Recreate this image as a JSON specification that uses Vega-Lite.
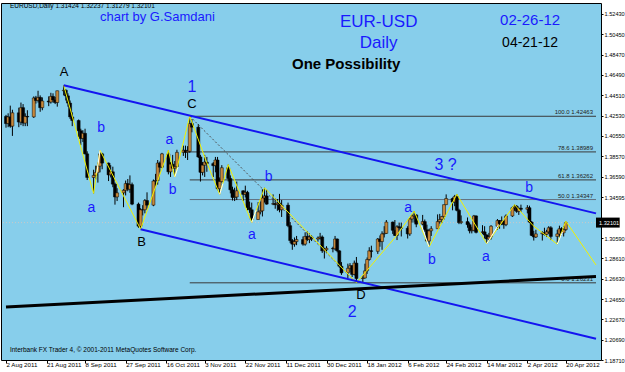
{
  "$schema": "https://vega.github.io/schema/vega-lite/v6.json",
  "width": 600,
  "height": 357,
  "autosize": "none",
  "padding": {"left": 1, "top": 3, "right": 24, "bottom": 12},
  "background": "#ffffff",
  "config": {
    "view": {"fill": "#87CEEB", "stroke": "#000000", "strokeWidth": 1},
    "axisX": {"labelFont": "Liberation Sans", "labelFontSize": 6.2, "labelColor": "#000000", "tickColor": "#000000", "tickSize": 3, "labelPadding": -2, "domain": false, "grid": false, "labelAlign": "left", "labelBaseline": "top", "labelOverlap": false, "labelFlush": false, "labelBound": false},
    "axisY": {"labelFont": "Liberation Sans", "labelFontSize": 5.6, "labelColor": "#000000", "tickColor": "#000000", "tickSize": 2, "labelPadding": 1, "domain": false, "grid": false, "labelAlign": "left", "labelBaseline": "middle", "labelOverlap": false, "labelFlush": false, "labelBound": false}
  },
  "datasets": {
    "candles": [
      {"d":"2011-08-02","o":1.4245,"h":1.4260,"l":1.4135,"c":1.4175},
      {"d":"2011-08-03","o":1.4175,"h":1.4275,"l":1.4140,"c":1.4240},
      {"d":"2011-08-04","o":1.4240,"h":1.4350,"l":1.4135,"c":1.4150},
      {"d":"2011-08-05","o":1.4150,"h":1.4310,"l":1.4055,"c":1.4280},
      {"d":"2011-08-08","o":1.4280,"h":1.4330,"l":1.4140,"c":1.4190},
      {"d":"2011-08-09","o":1.4190,"h":1.4380,"l":1.4160,"c":1.4330},
      {"d":"2011-08-10","o":1.4330,"h":1.4365,"l":1.4150,"c":1.4180},
      {"d":"2011-08-11","o":1.4180,"h":1.4275,"l":1.4150,"c":1.4245},
      {"d":"2011-08-12","o":1.4245,"h":1.4305,"l":1.4150,"c":1.4240},
      {"d":"2011-08-15","o":1.4240,"h":1.4440,"l":1.4230,"c":1.4425},
      {"d":"2011-08-16","o":1.4425,"h":1.4445,"l":1.4370,"c":1.4400},
      {"d":"2011-08-17","o":1.4400,"h":1.4495,"l":1.4380,"c":1.4430},
      {"d":"2011-08-18","o":1.4430,"h":1.4450,"l":1.4290,"c":1.4330},
      {"d":"2011-08-19","o":1.4330,"h":1.4430,"l":1.4305,"c":1.4395},
      {"d":"2011-08-22","o":1.4395,"h":1.4440,"l":1.4345,"c":1.4385},
      {"d":"2011-08-23","o":1.4385,"h":1.4475,"l":1.4370,"c":1.4440},
      {"d":"2011-08-24","o":1.4440,"h":1.4470,"l":1.4380,"c":1.4405},
      {"d":"2011-08-25","o":1.4405,"h":1.4435,"l":1.4365,"c":1.4380},
      {"d":"2011-08-26","o":1.4380,"h":1.4495,"l":1.4340,"c":1.4495},
      {"d":"2011-08-29","o":1.4495,"h":1.4548,"l":1.4450,"c":1.4500},
      {"d":"2011-08-30","o":1.4500,"h":1.4510,"l":1.4400,"c":1.4445},
      {"d":"2011-08-31","o":1.4445,"h":1.4470,"l":1.4340,"c":1.4375},
      {"d":"2011-09-01","o":1.4375,"h":1.4400,"l":1.4220,"c":1.4240},
      {"d":"2011-09-02","o":1.4240,"h":1.4285,"l":1.4150,"c":1.4205},
      {"d":"2011-09-05","o":1.4205,"h":1.4215,"l":1.4045,"c":1.4105},
      {"d":"2011-09-06","o":1.4105,"h":1.4125,"l":1.3965,"c":1.4030},
      {"d":"2011-09-07","o":1.4030,"h":1.4110,"l":1.3995,"c":1.4080},
      {"d":"2011-09-08","o":1.4080,"h":1.4125,"l":1.3875,"c":1.3880},
      {"d":"2011-09-09","o":1.3880,"h":1.3905,"l":1.3625,"c":1.3650},
      {"d":"2011-09-12","o":1.3650,"h":1.3725,"l":1.3495,"c":1.3670},
      {"d":"2011-09-13","o":1.3670,"h":1.3765,"l":1.3630,"c":1.3700},
      {"d":"2011-09-14","o":1.3700,"h":1.3795,"l":1.3600,"c":1.3760},
      {"d":"2011-09-15","o":1.3760,"h":1.3915,"l":1.3700,"c":1.3880},
      {"d":"2011-09-16","o":1.3880,"h":1.3890,"l":1.3730,"c":1.3790},
      {"d":"2011-09-19","o":1.3790,"h":1.3795,"l":1.3615,"c":1.3675},
      {"d":"2011-09-20","o":1.3675,"h":1.3770,"l":1.3650,"c":1.3705},
      {"d":"2011-09-21","o":1.3705,"h":1.3755,"l":1.3555,"c":1.3585},
      {"d":"2011-09-22","o":1.3585,"h":1.3600,"l":1.3385,"c":1.3460},
      {"d":"2011-09-23","o":1.3460,"h":1.3545,"l":1.3420,"c":1.3500},
      {"d":"2011-09-26","o":1.3500,"h":1.3535,"l":1.3360,"c":1.3525},
      {"d":"2011-09-27","o":1.3525,"h":1.3620,"l":1.3475,"c":1.3590},
      {"d":"2011-09-28","o":1.3590,"h":1.3635,"l":1.3515,"c":1.3535},
      {"d":"2011-09-29","o":1.3535,"h":1.3670,"l":1.3500,"c":1.3580},
      {"d":"2011-09-30","o":1.3580,"h":1.3600,"l":1.3380,"c":1.3390},
      {"d":"2011-10-03","o":1.3390,"h":1.3405,"l":1.3160,"c":1.3175},
      {"d":"2011-10-04","o":1.3175,"h":1.3350,"l":1.3146,"c":1.3335},
      {"d":"2011-10-05","o":1.3335,"h":1.3380,"l":1.3280,"c":1.3335},
      {"d":"2011-10-06","o":1.3335,"h":1.3440,"l":1.3300,"c":1.3425},
      {"d":"2011-10-07","o":1.3425,"h":1.3505,"l":1.3345,"c":1.3380},
      {"d":"2011-10-10","o":1.3380,"h":1.3630,"l":1.3370,"c":1.3615},
      {"d":"2011-10-11","o":1.3615,"h":1.3685,"l":1.3560,"c":1.3620},
      {"d":"2011-10-12","o":1.3620,"h":1.3820,"l":1.3580,"c":1.3790},
      {"d":"2011-10-13","o":1.3790,"h":1.3805,"l":1.3700,"c":1.3750},
      {"d":"2011-10-14","o":1.3750,"h":1.3890,"l":1.3740,"c":1.3880},
      {"d":"2011-10-17","o":1.3880,"h":1.3915,"l":1.3680,"c":1.3705},
      {"d":"2011-10-18","o":1.3705,"h":1.3800,"l":1.3655,"c":1.3780},
      {"d":"2011-10-19","o":1.3780,"h":1.3870,"l":1.3735,"c":1.3740},
      {"d":"2011-10-20","o":1.3740,"h":1.3810,"l":1.3655,"c":1.3755},
      {"d":"2011-10-21","o":1.3755,"h":1.3920,"l":1.3725,"c":1.3895},
      {"d":"2011-10-24","o":1.3895,"h":1.3960,"l":1.3860,"c":1.3915},
      {"d":"2011-10-25","o":1.3915,"h":1.3960,"l":1.3840,"c":1.3895},
      {"d":"2011-10-26","o":1.3895,"h":1.3955,"l":1.3820,"c":1.3905},
      {"d":"2011-10-27","o":1.3905,"h":1.4247,"l":1.3890,"c":1.4175},
      {"d":"2011-10-28","o":1.4175,"h":1.4220,"l":1.4090,"c":1.4140},
      {"d":"2011-10-31","o":1.4140,"h":1.4170,"l":1.3840,"c":1.3850},
      {"d":"2011-11-01","o":1.3850,"h":1.3870,"l":1.3610,"c":1.3700},
      {"d":"2011-11-02","o":1.3700,"h":1.3800,"l":1.3670,"c":1.3770},
      {"d":"2011-11-03","o":1.3770,"h":1.3870,"l":1.3655,"c":1.3800},
      {"d":"2011-11-04","o":1.3800,"h":1.3850,"l":1.3705,"c":1.3785},
      {"d":"2011-11-07","o":1.3785,"h":1.3800,"l":1.3655,"c":1.3765},
      {"d":"2011-11-08","o":1.3765,"h":1.3850,"l":1.3700,"c":1.3820},
      {"d":"2011-11-09","o":1.3820,"h":1.3850,"l":1.3525,"c":1.3540},
      {"d":"2011-11-10","o":1.3540,"h":1.3650,"l":1.3485,"c":1.3610},
      {"d":"2011-11-11","o":1.3610,"h":1.3770,"l":1.3600,"c":1.3745},
      {"d":"2011-11-14","o":1.3745,"h":1.3775,"l":1.3610,"c":1.3640},
      {"d":"2011-11-15","o":1.3640,"h":1.3670,"l":1.3495,"c":1.3530},
      {"d":"2011-11-16","o":1.3530,"h":1.3560,"l":1.3425,"c":1.3455},
      {"d":"2011-11-17","o":1.3455,"h":1.3550,"l":1.3420,"c":1.3460},
      {"d":"2011-11-18","o":1.3460,"h":1.3610,"l":1.3430,"c":1.3520},
      {"d":"2011-11-21","o":1.3520,"h":1.3525,"l":1.3420,"c":1.3485},
      {"d":"2011-11-22","o":1.3485,"h":1.3570,"l":1.3455,"c":1.3505},
      {"d":"2011-11-23","o":1.3505,"h":1.3520,"l":1.3330,"c":1.3355},
      {"d":"2011-11-24","o":1.3355,"h":1.3415,"l":1.3305,"c":1.3335},
      {"d":"2011-11-25","o":1.3335,"h":1.3405,"l":1.3212,"c":1.3240},
      {"d":"2011-11-28","o":1.3240,"h":1.3410,"l":1.3240,"c":1.3315},
      {"d":"2011-11-29","o":1.3315,"h":1.3415,"l":1.3290,"c":1.3325},
      {"d":"2011-11-30","o":1.3325,"h":1.3535,"l":1.3270,"c":1.3450},
      {"d":"2011-12-01","o":1.3450,"h":1.3549,"l":1.3405,"c":1.3470},
      {"d":"2011-12-02","o":1.3470,"h":1.3530,"l":1.3385,"c":1.3390},
      {"d":"2011-12-05","o":1.3390,"h":1.3485,"l":1.3380,"c":1.3395},
      {"d":"2011-12-06","o":1.3395,"h":1.3445,"l":1.3345,"c":1.3385},
      {"d":"2011-12-07","o":1.3385,"h":1.3440,"l":1.3325,"c":1.3400},
      {"d":"2011-12-08","o":1.3400,"h":1.3490,"l":1.3310,"c":1.3335},
      {"d":"2011-12-09","o":1.3335,"h":1.3430,"l":1.3265,"c":1.3380},
      {"d":"2011-12-12","o":1.3380,"h":1.3405,"l":1.3165,"c":1.3180},
      {"d":"2011-12-13","o":1.3180,"h":1.3215,"l":1.3010,"c":1.3035},
      {"d":"2011-12-14","o":1.3035,"h":1.3050,"l":1.2945,"c":1.3000},
      {"d":"2011-12-15","o":1.3000,"h":1.3065,"l":1.2975,"c":1.3025},
      {"d":"2011-12-16","o":1.3025,"h":1.3080,"l":1.2990,"c":1.3045},
      {"d":"2011-12-19","o":1.3045,"h":1.3075,"l":1.2985,"c":1.3000},
      {"d":"2011-12-20","o":1.3000,"h":1.3115,"l":1.2985,"c":1.3075},
      {"d":"2011-12-21","o":1.3075,"h":1.3125,"l":1.3030,"c":1.3045},
      {"d":"2011-12-22","o":1.3045,"h":1.3105,"l":1.3010,"c":1.3070},
      {"d":"2011-12-23","o":1.3070,"h":1.3085,"l":1.3030,"c":1.3050},
      {"d":"2011-12-26","o":1.3050,"h":1.3075,"l":1.3025,"c":1.3060},
      {"d":"2011-12-27","o":1.3060,"h":1.3110,"l":1.3045,"c":1.3070},
      {"d":"2011-12-28","o":1.3070,"h":1.3085,"l":1.2915,"c":1.2935},
      {"d":"2011-12-29","o":1.2935,"h":1.2965,"l":1.2860,"c":1.2945},
      {"d":"2011-12-30","o":1.2945,"h":1.2980,"l":1.2915,"c":1.2960},
      {"d":"2012-01-02","o":1.2960,"h":1.2975,"l":1.2920,"c":1.2955},
      {"d":"2012-01-03","o":1.2955,"h":1.3080,"l":1.2940,"c":1.3050},
      {"d":"2012-01-04","o":1.3050,"h":1.3055,"l":1.2920,"c":1.2935},
      {"d":"2012-01-05","o":1.2935,"h":1.2940,"l":1.2770,"c":1.2785},
      {"d":"2012-01-06","o":1.2785,"h":1.2825,"l":1.2700,"c":1.2720},
      {"d":"2012-01-09","o":1.2720,"h":1.2810,"l":1.2665,"c":1.2765},
      {"d":"2012-01-10","o":1.2765,"h":1.2815,"l":1.2725,"c":1.2790},
      {"d":"2012-01-11","o":1.2790,"h":1.2795,"l":1.2680,"c":1.2705},
      {"d":"2012-01-12","o":1.2705,"h":1.2840,"l":1.2695,"c":1.2815},
      {"d":"2012-01-13","o":1.2815,"h":1.2875,"l":1.2624,"c":1.2665},
      {"d":"2012-01-16","o":1.2665,"h":1.2700,"l":1.2625,"c":1.2670},
      {"d":"2012-01-17","o":1.2670,"h":1.2810,"l":1.2665,"c":1.2740},
      {"d":"2012-01-18","o":1.2740,"h":1.2870,"l":1.2710,"c":1.2850},
      {"d":"2012-01-19","o":1.2850,"h":1.2970,"l":1.2840,"c":1.2935},
      {"d":"2012-01-20","o":1.2935,"h":1.2985,"l":1.2870,"c":1.2930},
      {"d":"2012-01-23","o":1.2930,"h":1.3060,"l":1.2905,"c":1.3050},
      {"d":"2012-01-24","o":1.3050,"h":1.3085,"l":1.2975,"c":1.3025},
      {"d":"2012-01-25","o":1.3025,"h":1.3125,"l":1.2945,"c":1.3100},
      {"d":"2012-01-26","o":1.3100,"h":1.3175,"l":1.3065,"c":1.3105},
      {"d":"2012-01-27","o":1.3105,"h":1.3235,"l":1.3100,"c":1.3215},
      {"d":"2012-01-30","o":1.3215,"h":1.3220,"l":1.3100,"c":1.3135},
      {"d":"2012-01-31","o":1.3135,"h":1.3235,"l":1.3080,"c":1.3085},
      {"d":"2012-02-01","o":1.3085,"h":1.3185,"l":1.3040,"c":1.3170},
      {"d":"2012-02-02","o":1.3170,"h":1.3210,"l":1.3130,"c":1.3160},
      {"d":"2012-02-03","o":1.3160,"h":1.3210,"l":1.3075,"c":1.3155},
      {"d":"2012-02-06","o":1.3155,"h":1.3175,"l":1.3055,"c":1.3100},
      {"d":"2012-02-07","o":1.3100,"h":1.3255,"l":1.3080,"c":1.3245},
      {"d":"2012-02-08","o":1.3245,"h":1.3290,"l":1.3210,"c":1.3275},
      {"d":"2012-02-09","o":1.3275,"h":1.3322,"l":1.3210,"c":1.3285},
      {"d":"2012-02-10","o":1.3285,"h":1.3290,"l":1.3165,"c":1.3195},
      {"d":"2012-02-13","o":1.3195,"h":1.3285,"l":1.3185,"c":1.3220},
      {"d":"2012-02-14","o":1.3220,"h":1.3240,"l":1.3120,"c":1.3140},
      {"d":"2012-02-15","o":1.3140,"h":1.3190,"l":1.3020,"c":1.3030},
      {"d":"2012-02-16","o":1.3030,"h":1.3150,"l":1.2973,"c":1.3130},
      {"d":"2012-02-17","o":1.3130,"h":1.3175,"l":1.3080,"c":1.3150},
      {"d":"2012-02-20","o":1.3150,"h":1.3290,"l":1.3150,"c":1.3220},
      {"d":"2012-02-21","o":1.3220,"h":1.3295,"l":1.3200,"c":1.3240},
      {"d":"2012-02-22","o":1.3240,"h":1.3275,"l":1.3205,"c":1.3270},
      {"d":"2012-02-23","o":1.3270,"h":1.3385,"l":1.3240,"c":1.3385},
      {"d":"2012-02-24","o":1.3385,"h":1.3485,"l":1.3385,"c":1.3445},
      {"d":"2012-02-27","o":1.3445,"h":1.3455,"l":1.3330,"c":1.3410},
      {"d":"2012-02-28","o":1.3410,"h":1.3480,"l":1.3370,"c":1.3465},
      {"d":"2012-02-29","o":1.3465,"h":1.3486,"l":1.3320,"c":1.3330},
      {"d":"2012-03-01","o":1.3330,"h":1.3345,"l":1.3195,"c":1.3210},
      {"d":"2012-03-02","o":1.3210,"h":1.3280,"l":1.3195,"c":1.3220},
      {"d":"2012-03-05","o":1.3220,"h":1.3260,"l":1.3160,"c":1.3190},
      {"d":"2012-03-06","o":1.3190,"h":1.3210,"l":1.3105,"c":1.3130},
      {"d":"2012-03-07","o":1.3130,"h":1.3170,"l":1.3105,"c":1.3135},
      {"d":"2012-03-08","o":1.3135,"h":1.3285,"l":1.3125,"c":1.3275},
      {"d":"2012-03-09","o":1.3275,"h":1.3280,"l":1.3105,"c":1.3115},
      {"d":"2012-03-12","o":1.3115,"h":1.3185,"l":1.3100,"c":1.3120},
      {"d":"2012-03-13","o":1.3120,"h":1.3175,"l":1.3055,"c":1.3090},
      {"d":"2012-03-14","o":1.3090,"h":1.3095,"l":1.3004,"c":1.3050},
      {"d":"2012-03-15","o":1.3050,"h":1.3110,"l":1.3030,"c":1.3070},
      {"d":"2012-03-16","o":1.3070,"h":1.3185,"l":1.3045,"c":1.3175},
      {"d":"2012-03-19","o":1.3175,"h":1.3245,"l":1.3140,"c":1.3230},
      {"d":"2012-03-20","o":1.3230,"h":1.3235,"l":1.3150,"c":1.3200},
      {"d":"2012-03-21","o":1.3200,"h":1.3270,"l":1.3185,"c":1.3225},
      {"d":"2012-03-22","o":1.3225,"h":1.3235,"l":1.3150,"c":1.3190},
      {"d":"2012-03-23","o":1.3190,"h":1.3290,"l":1.3175,"c":1.3275},
      {"d":"2012-03-26","o":1.3275,"h":1.3365,"l":1.3265,"c":1.3355},
      {"d":"2012-03-27","o":1.3355,"h":1.3385,"l":1.3325,"c":1.3370},
      {"d":"2012-03-28","o":1.3370,"h":1.3380,"l":1.3305,"c":1.3320},
      {"d":"2012-03-29","o":1.3320,"h":1.3355,"l":1.3285,"c":1.3350},
      {"d":"2012-03-30","o":1.3350,"h":1.3385,"l":1.3315,"c":1.3340},
      {"d":"2012-04-02","o":1.3340,"h":1.3380,"l":1.3300,"c":1.3355},
      {"d":"2012-04-03","o":1.3355,"h":1.3375,"l":1.3205,"c":1.3215},
      {"d":"2012-04-04","o":1.3215,"h":1.3225,"l":1.3080,"c":1.3085},
      {"d":"2012-04-05","o":1.3085,"h":1.3130,"l":1.3035,"c":1.3070},
      {"d":"2012-04-06","o":1.3070,"h":1.3140,"l":1.3060,"c":1.3100},
      {"d":"2012-04-09","o":1.3100,"h":1.3125,"l":1.3035,"c":1.3110},
      {"d":"2012-04-10","o":1.3110,"h":1.3160,"l":1.3085,"c":1.3095},
      {"d":"2012-04-11","o":1.3095,"h":1.3140,"l":1.3070,"c":1.3120},
      {"d":"2012-04-12","o":1.3120,"h":1.3175,"l":1.3100,"c":1.3160},
      {"d":"2012-04-13","o":1.3160,"h":1.3175,"l":1.3040,"c":1.3075},
      {"d":"2012-04-16","o":1.3075,"h":1.3140,"l":1.3000,"c":1.3100},
      {"d":"2012-04-17","o":1.3100,"h":1.3180,"l":1.3060,"c":1.3150},
      {"d":"2012-04-18","o":1.3150,"h":1.3165,"l":1.3085,"c":1.3110},
      {"d":"2012-04-19","o":1.3110,"h":1.3175,"l":1.3075,"c":1.31424},
      {"d":"2012-04-20","o":1.31424,"h":1.32237,"l":1.31279,"c":1.32101}
    ],
    "zig": [
      {"d":"2011-08-29","p":1.4548},
      {"d":"2011-09-12","p":1.3495},
      {"d":"2011-09-15","p":1.3915},
      {"d":"2011-10-04","p":1.3146},
      {"d":"2011-10-17","p":1.3915},
      {"d":"2011-10-20","p":1.3655},
      {"d":"2011-10-27","p":1.4247},
      {"d":"2011-11-03T12:00Z","p":1.3820},
      {"d":"2011-11-10","p":1.3485},
      {"d":"2011-11-14","p":1.3775},
      {"d":"2011-11-25","p":1.3212},
      {"d":"2011-12-01","p":1.3549},
      {"d":"2012-01-13","p":1.2624},
      {"d":"2012-01-31T07:00Z","p":1.3070},
      {"d":"2012-02-09","p":1.3322},
      {"d":"2012-02-16","p":1.2973},
      {"d":"2012-02-29","p":1.3486},
      {"d":"2012-03-14","p":1.3004},
      {"d":"2012-03-27","p":1.3385},
      {"d":"2012-04-04T17:00Z","p":1.3180},
      {"d":"2012-04-16","p":1.3000},
      {"d":"2012-04-20","p":1.32237},
      {"d":"2012-05-04T03:00Z","p":1.2797}
    ],
    "white": [
      {"d":"2011-09-13T12:00Z","p":1.3690,"d2":"2011-09-15","p2":1.3915},
      {"d":"2011-10-20","p":1.3655,"d2":"2011-10-21T12:00Z","p2":1.3750},
      {"d":"2011-11-10","p":1.3485,"d2":"2011-11-11T12:00Z","p2":1.3590},
      {"d":"2011-11-25","p":1.3212,"d2":"2011-11-27","p2":1.3330},
      {"d":"2012-02-12T12:00Z","p":1.3180,"d2":"2012-02-16","p2":1.2973},
      {"d":"2012-03-14","p":1.3004,"d2":"2012-03-19T12:00Z","p2":1.3190},
      {"d":"2012-04-16","p":1.3000,"d2":"2012-04-18T12:00Z","p2":1.3120}
    ],
    "lines": [
      {"k":"upper","d":"2011-08-29","p":1.4548,"d2":"2012-05-04T03:00Z","p2":1.3300},
      {"k":"lower","d":"2011-10-04","p":1.3146,"d2":"2012-05-04T03:00Z","p2":1.2078},
      {"k":"black","d":"2011-08-02","p":1.2388,"d2":"2012-05-04T03:00Z","p2":1.2685},
      {"k":"dotted","d":"2011-10-27","p":1.4247,"d2":"2012-01-13","p2":1.2624}
    ],
    "fib": [
      {"lvl":"100.0","p":1.42463,"lbl":"100.0  1.42463"},
      {"lvl":"78.6","p":1.38989,"lbl":"78.6  1.38989"},
      {"lvl":"61.8","p":1.36262,"lbl":"61.8  1.36262"},
      {"lvl":"50.0","p":1.34347,"lbl":"50.0  1.34347"},
      {"lvl":"0.0","p":1.26231,"lbl":"0.0  1.26231"}
    ],
    "bluesmall": [
      {"d":"2011-09-15T14:00Z","p":1.4135,"t":"b"},
      {"d":"2011-09-11","p":1.3352,"t":"a"},
      {"d":"2011-10-17T10:00Z","p":1.4015,"t":"a"},
      {"d":"2011-10-19","p":1.3527,"t":"b"},
      {"d":"2011-11-25T02:00Z","p":1.3090,"t":"a"},
      {"d":"2011-12-02T22:00Z","p":1.3654,"t":"b"},
      {"d":"2012-02-06T05:00Z","p":1.3352,"t":"a"},
      {"d":"2012-02-17T07:00Z","p":1.2846,"t":"b"},
      {"d":"2012-04-02T19:00Z","p":1.3547,"t":"b"},
      {"d":"2012-03-13T14:00Z","p":1.2875,"t":"a"}
    ],
    "blacksmall": [
      {"d":"2011-08-29T05:00Z","p":1.4678,"t":"A"},
      {"d":"2011-10-28","p":1.4366,"t":"C"},
      {"d":"2011-10-04T12:00Z","p":1.3021,"t":"B"},
      {"d":"2012-01-15T03:00Z","p":1.2505,"t":"D"}
    ],
    "bignum": [
      {"d":"2011-10-28","p":1.4532,"t":"1"},
      {"d":"2012-01-11","p":1.2339,"t":"2"},
      {"d":"2012-02-23T17:00Z","p":1.3771,"t":"3 ?"}
    ]
  },
  "layer": [
    {
      "data": {"values": [{"p": 1.32101}]},
      "mark": {"type": "rule", "color": "#c8c8c8", "strokeWidth": 1, "strokeDash": [1, 2]},
      "encoding": {
        "y": {"field": "p", "type": "quantitative", "title": null, "scale": {"domain": [1.1871, 1.53502], "nice": false, "zero": false},
          "axis": {"orient": "right", "labelOverlap": false, "tickCount": 40, "values": [1.5243, 1.5045, 1.4847, 1.4649, 1.4451, 1.4253, 1.4055, 1.3857, 1.3659, 1.34595, 1.3059, 1.2861, 1.2663, 1.2465, 1.2267, 1.2069, 1.1871], "format": ".5f"}}
      }
    },
    {
      "data": {"name": "fib"},
      "mark": {"type": "rule", "color": "#3a3a3a", "strokeWidth": 1},
      "encoding": {
        "x": {"datum": {"year": 2011, "month": 10, "date": 27, "utc": true}, "type": "temporal", "scale": {"type": "utc", "domain": [{"year": 2011, "month": 8, "date": 2, "utc": true}, {"year": 2012, "month": 5, "date": 4, "hours": 3, "utc": true}]},
          "axis": {"labelOverlap": false, "tickCount": 40, "values": [{"year": 2011, "month": 8, "date": 2, "utc": true}, {"year": 2011, "month": 8, "date": 21, "utc": true}, {"year": 2011, "month": 9, "date": 8, "utc": true}, {"year": 2011, "month": 9, "date": 27, "utc": true}, {"year": 2011, "month": 10, "date": 16, "utc": true}, {"year": 2011, "month": 11, "date": 3, "utc": true}, {"year": 2011, "month": 11, "date": 22, "utc": true}, {"year": 2011, "month": 12, "date": 11, "utc": true}, {"year": 2011, "month": 12, "date": 30, "utc": true}, {"year": 2012, "month": 1, "date": 18, "utc": true}, {"year": 2012, "month": 2, "date": 6, "utc": true}, {"year": 2012, "month": 2, "date": 24, "utc": true}, {"year": 2012, "month": 3, "date": 14, "utc": true}, {"year": 2012, "month": 4, "date": 2, "utc": true}, {"year": 2012, "month": 4, "date": 20, "utc": true}], "format": "%-d %b %Y", "title": null}},
        "x2": {"datum": {"year": 2012, "month": 5, "date": 4, "hours": 3, "utc": true}},
        "y": {"field": "p", "type": "quantitative", "title": null, "scale": {"domain": [1.1871, 1.53502], "nice": false, "zero": false}},
        "strokeWidth": {"condition": {"test": "datum.lvl == '50.0'", "value": 2}, "value": 1},
        "color": {"condition": {"test": "datum.lvl == '50.0'", "value": "#607080"}, "value": "#3a3a3a"}
      }
    },
    {
      "data": {"name": "fib"},
      "mark": {"type": "text", "font": "Liberation Sans", "fontSize": 6, "color": "#222222", "align": "right", "baseline": "bottom", "dx": -3, "dy": -1},
      "encoding": {
        "x": {"datum": {"year": 2012, "month": 5, "date": 4, "hours": 3, "utc": true}, "type": "temporal"},
        "y": {"field": "p", "type": "quantitative", "title": null, "scale": {"domain": [1.1871, 1.53502], "nice": false, "zero": false}},
        "text": {"field": "lbl"}
      }
    },
    {
      "data": {"name": "candles"},
      "mark": {"type": "rule", "color": "#000000", "strokeWidth": 1},
      "encoding": {
        "x": {"field": "d", "type": "temporal", "title": null},
        "y": {"field": "l", "type": "quantitative", "title": null, "scale": {"domain": [1.1871, 1.53502], "nice": false, "zero": false}},
        "y2": {"field": "h"}
      }
    },
    {
      "data": {"name": "candles"},
      "mark": {"type": "bar", "width": 3, "stroke": "#000000", "strokeWidth": 0.5},
      "encoding": {
        "x": {"field": "d", "type": "temporal", "title": null},
        "y": {"field": "o", "type": "quantitative", "title": null, "scale": {"domain": [1.1871, 1.53502], "nice": false, "zero": false}},
        "y2": {"field": "c"},
        "fill": {"condition": {"test": "datum.c > datum.o", "value": "#C8883A"}, "value": "#000000"}
      }
    },
    {
      "data": {"name": "lines"},
      "transform": [{"filter": "datum.k == 'dotted'"}],
      "mark": {"type": "rule", "color": "#505050", "strokeWidth": 1, "strokeDash": [2, 2]},
      "encoding": {
        "x": {"field": "d", "type": "temporal", "title": null},
        "x2": {"field": "d2"},
        "y": {"field": "p", "type": "quantitative", "title": null, "scale": {"domain": [1.1871, 1.53502], "nice": false, "zero": false}},
        "y2": {"field": "p2"}
      }
    },
    {
      "data": {"name": "zig"},
      "mark": {"type": "line", "color": "#f2f200", "strokeWidth": 1},
      "encoding": {
        "x": {"field": "d", "type": "temporal", "title": null},
        "y": {"field": "p", "type": "quantitative", "title": null, "scale": {"domain": [1.1871, 1.53502], "nice": false, "zero": false}}
      }
    },
    {
      "data": {"name": "white"},
      "mark": {"type": "rule", "color": "#ffffff", "strokeWidth": 1},
      "encoding": {
        "x": {"field": "d", "type": "temporal", "title": null},
        "x2": {"field": "d2"},
        "y": {"field": "p", "type": "quantitative", "title": null, "scale": {"domain": [1.1871, 1.53502], "nice": false, "zero": false}},
        "y2": {"field": "p2"}
      }
    },
    {
      "data": {"name": "lines"},
      "transform": [{"filter": "datum.k == 'upper' || datum.k == 'lower'"}],
      "mark": {"type": "rule", "color": "#1414f0", "strokeWidth": 2},
      "encoding": {
        "x": {"field": "d", "type": "temporal", "title": null},
        "x2": {"field": "d2"},
        "y": {"field": "p", "type": "quantitative", "title": null, "scale": {"domain": [1.1871, 1.53502], "nice": false, "zero": false}},
        "y2": {"field": "p2"}
      }
    },
    {
      "data": {"name": "lines"},
      "transform": [{"filter": "datum.k == 'black'"}],
      "mark": {"type": "rule", "color": "#000000", "strokeWidth": 3},
      "encoding": {
        "x": {"field": "d", "type": "temporal", "title": null},
        "x2": {"field": "d2"},
        "y": {"field": "p", "type": "quantitative", "title": null, "scale": {"domain": [1.1871, 1.53502], "nice": false, "zero": false}},
        "y2": {"field": "p2"}
      }
    },
    {
      "data": {"name": "bluesmall"},
      "mark": {"type": "text", "font": "Liberation Sans", "fontSize": 14, "color": "#1a1aff", "align": "center", "baseline": "middle"},
      "encoding": {
        "x": {"field": "d", "type": "temporal", "title": null},
        "y": {"field": "p", "type": "quantitative", "title": null, "scale": {"domain": [1.1871, 1.53502], "nice": false, "zero": false}},
        "text": {"field": "t"}
      }
    },
    {
      "data": {"name": "blacksmall"},
      "mark": {"type": "text", "font": "Liberation Sans", "fontSize": 13, "color": "#000000", "align": "center", "baseline": "middle"},
      "encoding": {
        "x": {"field": "d", "type": "temporal", "title": null},
        "y": {"field": "p", "type": "quantitative", "title": null, "scale": {"domain": [1.1871, 1.53502], "nice": false, "zero": false}},
        "text": {"field": "t"}
      }
    },
    {
      "data": {"name": "bignum"},
      "mark": {"type": "text", "font": "Liberation Sans", "fontSize": 16, "color": "#1a1aff", "align": "center", "baseline": "middle"},
      "encoding": {
        "x": {"field": "d", "type": "temporal", "title": null},
        "y": {"field": "p", "type": "quantitative", "title": null, "scale": {"domain": [1.1871, 1.53502], "nice": false, "zero": false}},
        "text": {"field": "t"}
      }
    },
    {
      "data": {"values": [{"d":"2011-10-11T21:00Z","p":1.5214,"t":"chart by G.Samdani"}]},
      "mark": {"type": "text", "font": "Liberation Sans", "fontSize": 13, "color": "#1a1aff", "align": "center", "baseline": "middle"},
      "encoding": {
        "x": {"field": "d", "type": "temporal", "title": null},
        "y": {"field": "p", "type": "quantitative", "title": null, "scale": {"domain": [1.1871, 1.53502], "nice": false, "zero": false}},
        "text": {"field": "t"}
      }
    },
    {
      "data": {"values": [{"d":"2012-04-03T07:00Z","p":1.5185,"t":"02-26-12"}]},
      "mark": {"type": "text", "font": "Liberation Sans", "fontSize": 15, "color": "#1a1aff", "align": "center", "baseline": "middle"},
      "encoding": {
        "x": {"field": "d", "type": "temporal", "title": null},
        "y": {"field": "p", "type": "quantitative", "title": null, "scale": {"domain": [1.1871, 1.53502], "nice": false, "zero": false}},
        "text": {"field": "t"}
      }
    },
    {
      "data": {"values": [
        {"d":"2012-01-23T10:00Z","p":1.5165,"t":"EUR-USD"},
        {"d":"2012-01-23T10:00Z","p":1.4960,"t":"Daily"}
      ]},
      "mark": {"type": "text", "font": "Liberation Sans", "fontSize": 17, "color": "#1a1aff", "align": "center", "baseline": "middle"},
      "encoding": {
        "x": {"field": "d", "type": "temporal", "title": null},
        "y": {"field": "p", "type": "quantitative", "title": null, "scale": {"domain": [1.1871, 1.53502], "nice": false, "zero": false}},
        "text": {"field": "t"}
      }
    },
    {
      "data": {"values": [{"d":"2012-01-08T05:00Z","p":1.4756,"t":"One Possibility"}]},
      "mark": {"type": "text", "font": "Liberation Sans", "fontSize": 15, "fontWeight": "bold", "color": "#000000", "align": "center", "baseline": "middle"},
      "encoding": {
        "x": {"field": "d", "type": "temporal", "title": null},
        "y": {"field": "p", "type": "quantitative", "title": null, "scale": {"domain": [1.1871, 1.53502], "nice": false, "zero": false}},
        "text": {"field": "t"}
      }
    },
    {
      "data": {"values": [{"d":"2012-04-03T07:00Z","p":1.4960,"t":"04-21-12"}]},
      "mark": {"type": "text", "font": "Liberation Sans", "fontSize": 14, "color": "#000000", "align": "center", "baseline": "middle"},
      "encoding": {
        "x": {"field": "d", "type": "temporal", "title": null},
        "y": {"field": "p", "type": "quantitative", "title": null, "scale": {"domain": [1.1871, 1.53502], "nice": false, "zero": false}},
        "text": {"field": "t"}
      }
    },
    {
      "data": {"values": [
        {"d":"2011-08-03T20:00Z","p":1.5321,"t":"EURUSD,Daily  1.31424 1.32237 1.31279 1.32101"},
        {"d":"2011-08-03T20:00Z","p":1.1969,"t":"Interbank FX Trader 4, © 2001-2011 MetaQuotes Software Corp."}
      ]},
      "mark": {"type": "text", "font": "Liberation Sans", "fontSize": 6.5, "color": "#000000", "align": "left", "baseline": "middle"},
      "encoding": {
        "x": {"field": "d", "type": "temporal", "title": null},
        "y": {"field": "p", "type": "quantitative", "title": null, "scale": {"domain": [1.1871, 1.53502], "nice": false, "zero": false}},
        "text": {"field": "t"}
      }
    },
    {
      "data": {"values": [{"d":"2012-05-04T03:00Z","d2":"2012-05-15T05:00Z","p":1.32101}]},
      "mark": {"type": "rule", "color": "#000000", "strokeWidth": 10, "strokeCap": "butt", "clip": false},
      "encoding": {
        "x": {"field": "d", "type": "temporal", "title": null},
        "x2": {"field": "d2"},
        "y": {"field": "p", "type": "quantitative", "title": null, "scale": {"domain": [1.1871, 1.53502], "nice": false, "zero": false}}
      }
    },
    {
      "data": {"values": [{"d":"2012-05-04T03:00Z","p":1.32101,"t":"1.32101"}]},
      "mark": {"type": "text", "font": "Liberation Sans", "fontSize": 5.6, "color": "#ffffff", "align": "left", "baseline": "middle", "dx": 3},
      "encoding": {
        "x": {"field": "d", "type": "temporal", "title": null},
        "y": {"field": "p", "type": "quantitative", "title": null, "scale": {"domain": [1.1871, 1.53502], "nice": false, "zero": false}},
        "text": {"field": "t"}
      }
    }
  ]
}
